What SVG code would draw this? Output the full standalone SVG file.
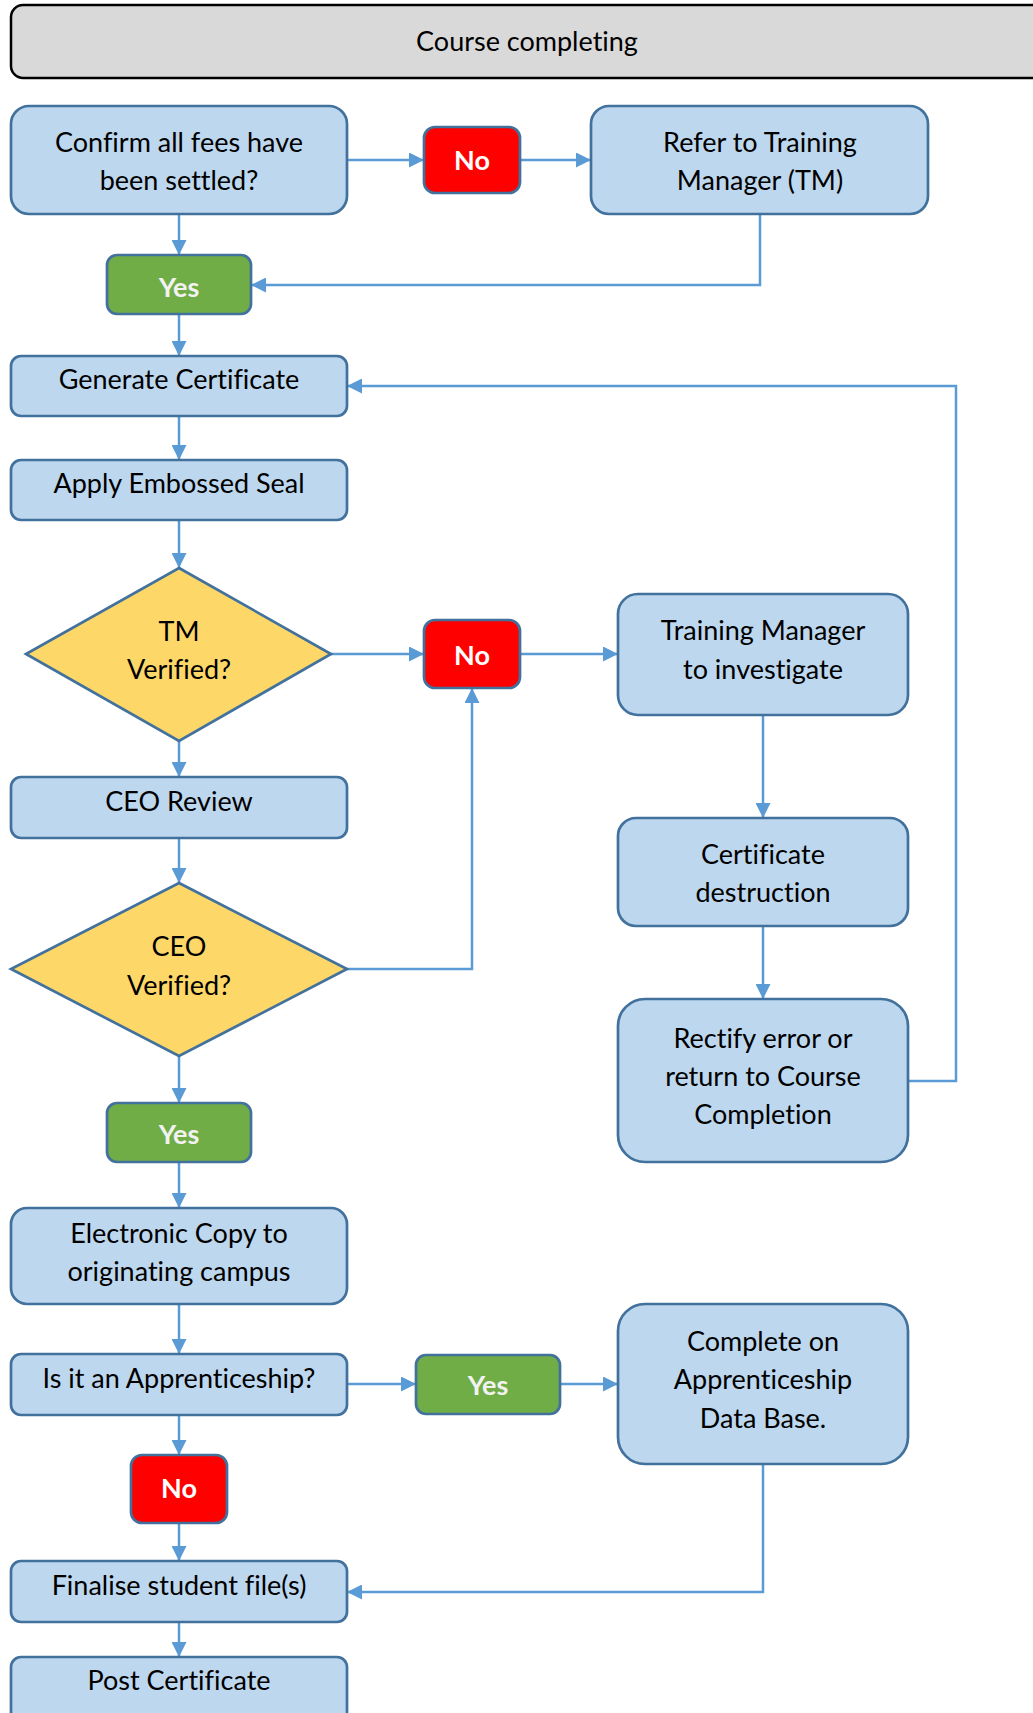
<svg xmlns="http://www.w3.org/2000/svg" width="1033" height="1713" viewBox="0 0 1033 1713">
  <style>
    .box { fill: #bdd7ee; stroke: #41719c; stroke-width: 2.7; }
    .dec { fill: #fdd868; stroke: #41719c; stroke-width: 2.7; }
    .yes { fill: #70ad47; stroke: #41719c; stroke-width: 2.7; }
    .no { fill: #ff0000; stroke: #41719c; stroke-width: 2.7; }
    .title { fill: #d9d9d9; stroke: #000000; stroke-width: 2.5; }
    text { font-family: Lato, "Open Sans", "Liberation Sans", sans-serif; font-size: 27px; fill: #000000; text-anchor: middle; font-variant-ligatures: none; }
    .lbl { font-weight: bold; fill: #ffffff; }
    .lbl-yes { font-weight: bold; fill: #f2f2f2; }
    .wire-arrow { fill: none; stroke: #5b9bd5; stroke-width: 2.5; marker-end: url(#head); }
  </style>
  <defs>
    <marker id="head" viewBox="0 0 15 15" refX="15" refY="7.5" markerWidth="15" markerHeight="15" markerUnits="userSpaceOnUse" orient="auto">
      <path d="M0,0 L15,7.5 L0,15 z" fill="#5b9bd5"/>
    </marker>
  </defs>

  <!-- header band -->
  <g id="header">
    <rect class="title" x="11" y="5" width="1040" height="73" rx="12"/>
    <text x="527" y="51">Course completing</text>
  </g>

  <!-- connectors -->
  <g id="connectors">
    <path class="wire-arrow" d="M347,160 H424"/>
    <path class="wire-arrow" d="M520,160 H591"/>
    <path class="wire-arrow" d="M179,214 V255"/>
    <path class="wire-arrow" d="M760,214 V285 H251"/>
    <path class="wire-arrow" d="M179,314 V356"/>
    <path class="wire-arrow" d="M179,416 V460"/>
    <path class="wire-arrow" d="M179,520 V568"/>
    <path class="wire-arrow" d="M331,654 H424"/>
    <path class="wire-arrow" d="M520,654 H618"/>
    <path class="wire-arrow" d="M179,741 V777"/>
    <path class="wire-arrow" d="M179,838 V883"/>
    <path class="wire-arrow" d="M347,969 H472 V688"/>
    <path class="wire-arrow" d="M179,1056 V1103"/>
    <path class="wire-arrow" d="M763,715 V818"/>
    <path class="wire-arrow" d="M763,926 V999"/>
    <path class="wire-arrow" d="M908,1081 H956 V386 H347"/>
    <path class="wire-arrow" d="M179,1162 V1208"/>
    <path class="wire-arrow" d="M179,1304 V1354"/>
    <path class="wire-arrow" d="M347,1384 H416"/>
    <path class="wire-arrow" d="M560,1384 H618"/>
    <path class="wire-arrow" d="M179,1415 V1455"/>
    <path class="wire-arrow" d="M179,1523 V1561"/>
    <path class="wire-arrow" d="M763,1464 V1592 H347"/>
    <path class="wire-arrow" d="M179,1622 V1657"/>
  </g>

  <!-- nodes -->
  <g id="fees-settled">
    <rect class="box" x="11" y="106" width="336" height="108" rx="18"/>
    <text x="179" y="152">Confirm all fees have</text>
    <text x="179" y="190">been settled?</text>
  </g>
  <g id="fees-no">
    <rect class="no" x="424" y="127" width="96" height="66" rx="11"/>
    <text class="lbl" x="472" y="170">No</text>
  </g>
  <g id="refer-tm">
    <rect class="box" x="591" y="106" width="337" height="108" rx="18"/>
    <text x="760" y="152">Refer to Training</text>
    <text x="760" y="190">Manager (TM)</text>
  </g>
  <g id="fees-yes">
    <rect class="yes" x="107" y="255" width="144" height="59" rx="10"/>
    <text class="lbl-yes" x="179" y="297">Yes</text>
  </g>
  <g id="generate">
    <rect class="box" x="11" y="356" width="336" height="60" rx="10"/>
    <text x="179" y="389">Generate Certificate</text>
  </g>
  <g id="embossed-seal">
    <rect class="box" x="11" y="460" width="336" height="60" rx="10"/>
    <text x="179" y="493">Apply Embossed Seal</text>
  </g>
  <g id="tm-verified">
    <polygon class="dec" points="179,568 331,654 179,741 26,654"/>
    <text x="179" y="641">TM</text>
    <text x="179" y="679">Verified?</text>
  </g>
  <g id="verify-no">
    <rect class="no" x="424" y="620" width="96" height="68" rx="11"/>
    <text class="lbl" x="472" y="665">No</text>
  </g>
  <g id="tm-investigate">
    <rect class="box" x="618" y="594" width="290" height="121" rx="20"/>
    <text x="763" y="640">Training Manager</text>
    <text x="763" y="679">to investigate</text>
  </g>
  <g id="destruction">
    <rect class="box" x="618" y="818" width="290" height="108" rx="18"/>
    <text x="763" y="864">Certificate</text>
    <text x="763" y="902">destruction</text>
  </g>
  <g id="rectify">
    <rect class="box" x="618" y="999" width="290" height="163" rx="27"/>
    <text x="763" y="1048">Rectify error or</text>
    <text x="763" y="1086">return to Course</text>
    <text x="763" y="1124">Completion</text>
  </g>
  <g id="ceo-review">
    <rect class="box" x="11" y="777" width="336" height="61" rx="10"/>
    <text x="179" y="811">CEO Review</text>
  </g>
  <g id="ceo-verified">
    <polygon class="dec" points="179,883 347,969 179,1056 11,969"/>
    <text x="179" y="956">CEO</text>
    <text x="179" y="995">Verified?</text>
  </g>
  <g id="ceo-yes">
    <rect class="yes" x="107" y="1103" width="144" height="59" rx="10"/>
    <text class="lbl-yes" x="179" y="1144">Yes</text>
  </g>
  <g id="electronic-copy">
    <rect class="box" x="11" y="1208" width="336" height="96" rx="16"/>
    <text x="179" y="1243">Electronic Copy to</text>
    <text x="179" y="1281">originating campus</text>
  </g>
  <g id="apprenticeship">
    <rect class="box" x="11" y="1354" width="336" height="61" rx="10"/>
    <text x="179" y="1388">Is it an Apprenticeship?</text>
  </g>
  <g id="apprenticeship-yes">
    <rect class="yes" x="416" y="1355" width="144" height="59" rx="10"/>
    <text class="lbl-yes" x="488" y="1395">Yes</text>
  </g>
  <g id="apprenticeship-db">
    <rect class="box" x="618" y="1304" width="290" height="160" rx="27"/>
    <text x="763" y="1351">Complete on</text>
    <text x="763" y="1389">Apprenticeship</text>
    <text x="763" y="1428">Data Base.</text>
  </g>
  <g id="apprenticeship-no">
    <rect class="no" x="131" y="1455" width="96" height="68" rx="11"/>
    <text class="lbl" x="179" y="1498">No</text>
  </g>
  <g id="finalise">
    <rect class="box" x="11" y="1561" width="336" height="61" rx="10"/>
    <text x="179" y="1595">Finalise student file(s)</text>
  </g>
  <g id="post-certificate">
    <rect class="box" x="11" y="1657" width="336" height="80" rx="10"/>
    <text x="179" y="1690">Post Certificate</text>
  </g>
</svg>
